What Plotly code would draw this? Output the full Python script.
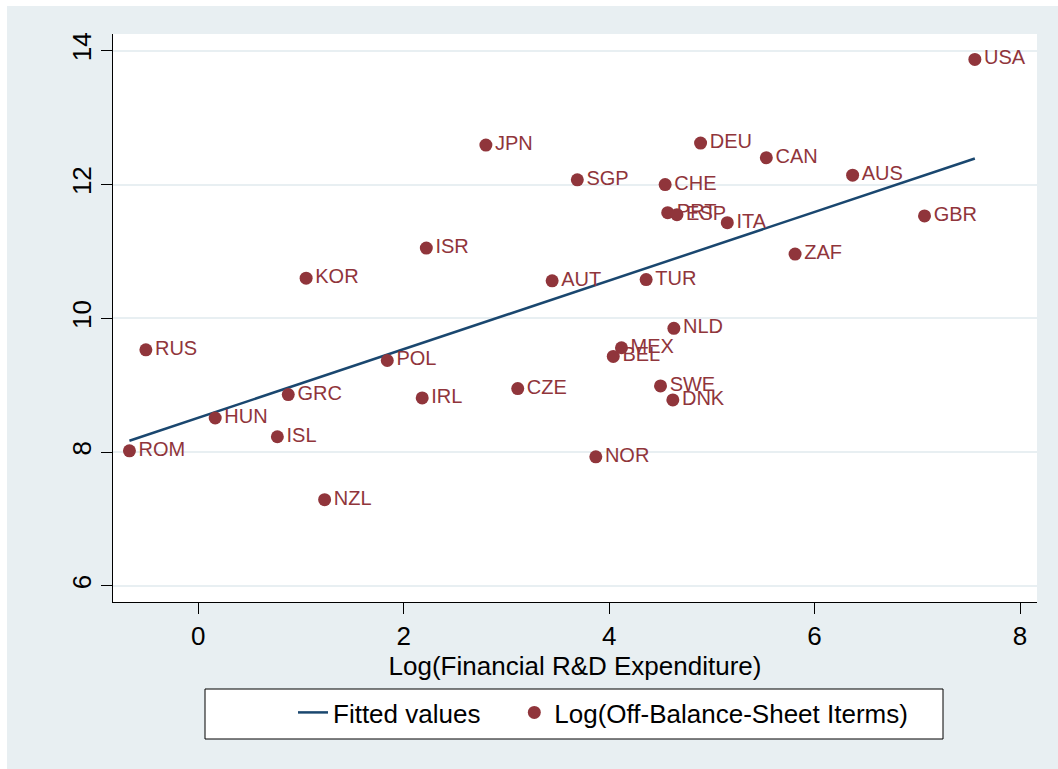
import plotly.graph_objects as go

# Data
countries = ["USA", "DEU", "CAN", "AUS", "JPN", "SGP", "CHE", "PRT", "ESP", "ITA",
             "GBR", "ISR", "ZAF", "KOR", "AUT", "TUR", "NLD", "RUS", "MEX", "BEL",
             "POL", "SWE", "CZE", "DNK", "GRC", "IRL", "HUN", "ISL", "ROM", "NOR", "NZL"]
log_rd = [7.56, 4.89, 5.53, 6.37, 2.80, 3.69, 4.545, 4.57, 4.66, 5.15,
          7.07, 2.22, 5.81, 1.05, 3.445, 4.36, 4.63, -0.51, 4.12, 4.04,
          1.84, 4.50, 3.11, 4.62, 0.876, 2.18, 0.165, 0.77, -0.67, 3.87, 1.23]
log_obs = [13.87, 12.62, 12.40, 12.14, 12.59, 12.07, 12.00, 11.58, 11.55, 11.43,
           11.53, 11.05, 10.96, 10.60, 10.56, 10.58, 9.85, 9.53, 9.56, 9.43,
           9.37, 8.99, 8.95, 8.78, 8.86, 8.81, 8.51, 8.23, 8.02, 7.93, 7.29]
fit_x = [-0.67, 7.56]
fit_y = [8.17, 12.39]

x_ticks = [0, 2, 4, 6, 8]
y_ticks = [6, 8, 10, 12, 14]

MAROON = "#90353b"
NAVY = "#1a476f"
BG = "#e8eff2"
FONT = "Liberation Sans, Arial, Helvetica, sans-serif"

# plot area in pixels
L, R, T, B = 113, 1037, 34, 602
PW, PH = R - L, B - T


def px(x):
    return (x - L) / PW


def py(y):
    return (B - y) / PH


NB = "\u00a0"

fig = go.Figure()
fig.add_trace(go.Scatter(
    x=fit_x, y=fit_y, mode="lines", name="Fitted values" + NB * 4,
    line=dict(color=NAVY, width=2.5),
))
fig.add_trace(go.Scatter(
    x=log_rd, y=log_obs, mode="markers+text", name="Log(Off-Balance-Sheet Iterms)",
    text=countries, textposition="middle right",
    textfont=dict(color=MAROON, size=20, family=FONT),
    marker=dict(color=MAROON, size=13, line=dict(width=0)),
))

fig.update_layout(
    width=1058, height=769,
    margin=dict(l=L, r=1058 - R, t=T, b=769 - B, pad=0),
    paper_bgcolor=BG, plot_bgcolor="white",
    font=dict(family=FONT, color="black"),
    showlegend=True,
    legend=dict(
        orientation="h", x=px(293), xanchor="left", y=py(689), yanchor="top",
        bgcolor="rgba(0,0,0,0)", borderwidth=0,
        font=dict(size=26, family=FONT, color="black"),
    ),
    xaxis=dict(
        range=[-0.83, 8.165], tickvals=x_ticks, ticktext=[str(v) for v in x_ticks],
        showgrid=False, zeroline=False, showline=True, linecolor="black", linewidth=1,
        ticks="outside", ticklen=11, tickwidth=1, tickcolor="black",
        tickfont=dict(size=26, family=FONT),
        title=dict(text="Log(Financial R&D Expenditure)", font=dict(size=26, family=FONT), standoff=0),
    ),
    yaxis=dict(
        range=[5.76, 14.25], tickvals=y_ticks, ticktext=[str(v) for v in y_ticks],
        showgrid=True, gridcolor=BG, gridwidth=2, zeroline=False,
        showline=True, linecolor="black", linewidth=1,
        ticks="outside", ticklen=11, tickwidth=1, tickcolor="black",
        tickangle=-90, tickfont=dict(size=26, family=FONT),
    ),
    shapes=[
        dict(type="rect", xref="paper", yref="paper", x0=px(-20), x1=px(7),
             y0=py(800), y1=py(-20), fillcolor="white", line=dict(width=0), layer="below"),
        dict(type="rect", xref="paper", yref="paper", x0=px(-20), x1=px(1080),
             y0=py(6), y1=py(-20), fillcolor="white", line=dict(width=0), layer="below"),
        dict(type="rect", xref="paper", yref="paper", x0=px(205), x1=px(943),
             y0=py(739), y1=py(689), fillcolor="white", line=dict(color="black", width=1),
             layer="below"),
    ],
)

fig.write_html(
    "out.html",
    config={"displayModeBar": False},
    post_script="document.body.style.margin='0';document.body.style.overflow='hidden';",
)
